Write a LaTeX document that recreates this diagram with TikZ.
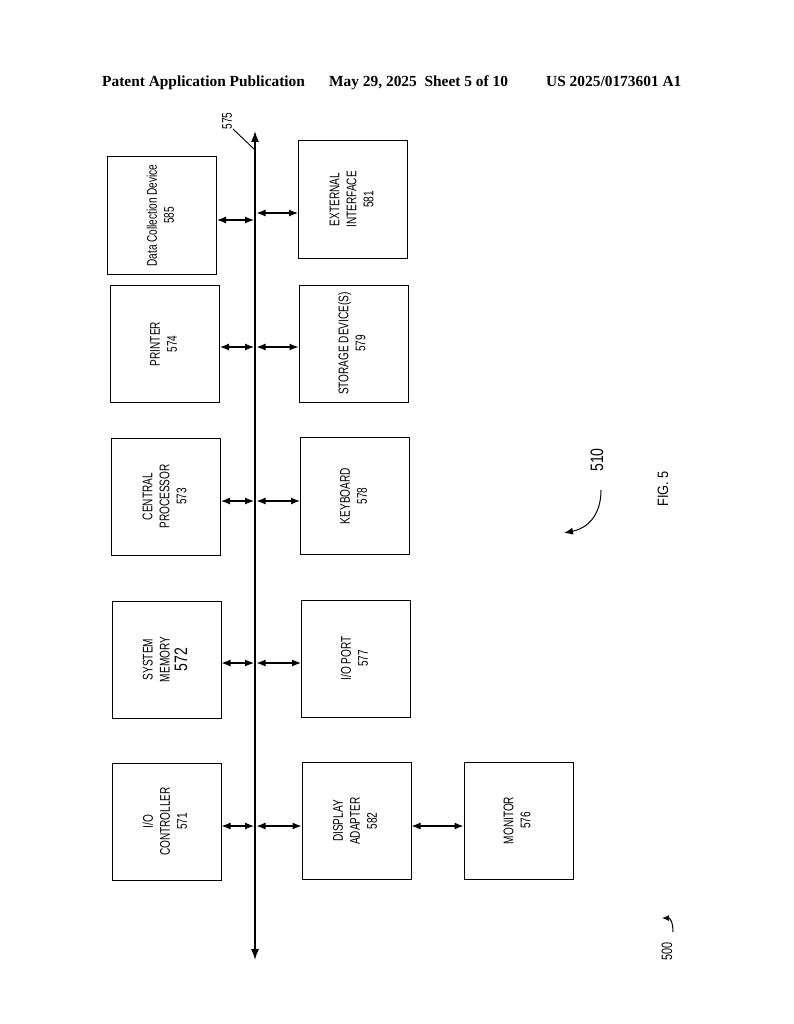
\documentclass[tikz,border=0pt]{standalone}
\usepackage{fontspec}
\usepackage{graphicx}
\setmainfont{Liberation Serif}
\newfontfamily\boxfont[FakeStretch=0.72]{Liberation Sans}
\newfontfamily\bignum[FakeStretch=0.78]{Liberation Sans}
\newfontfamily\figfont[FakeStretch=0.85]{Liberation Sans}
\usetikzlibrary{arrows.meta}
\newcommand{\uptext}[1]{\rotatebox{90}{\begin{tabular}{@{}c@{}}#1\end{tabular}}}

\begin{document}
\begin{tikzpicture}[x=1pt,y=-1pt,
  blk/.style={draw,line width=1pt,minimum width=109pt,minimum height=117pt,inner sep=0pt,font=\boxfont\fontsize{14}{17}\selectfont},
  link/.style={{Latex[length=9pt,width=7pt]}-{Latex[length=9pt,width=7pt]},line width=1.2pt},
  hdr/.style={anchor=base west,inner sep=0pt,font=\fontsize{15.4}{18}\selectfont\bfseries},
  tag/.style={rotate=90,inner sep=0pt}]
\useasboundingbox (0,0) rectangle (794,1024);
% header line
\node[hdr] (pub) at (102,87) {Patent Application Publication};
\node[hdr] (date) at (329,87) {May 29, 2025\hspace{0.5em}Sheet 5 of 10};
\node[hdr] (num) at (546,87) {US 2025/0173601 A1};
% system bus
\coordinate (bustop) at (255,131);
\coordinate (busbot) at (255,960);
\draw[{Latex[length=11pt,width=8pt]}-{Latex[length=11pt,width=8pt]},line width=1.4pt] (busbot) -- (bustop);
\node[tag,font=\boxfont\fontsize{14}{14}\selectfont] (l575) at (227,121) {575};
\coordinate (t575) at (233,129);
\coordinate (b575) at (255,150);
\draw[line width=0.9pt] (t575) -- (b575);
% blocks
\foreach \nm/\px/\py/\txt in {dcd/162/215.5/{Data Collection Device\\585},
    ext/353/199.5/{EXTERNAL\\INTERFACE\\581},
    prn/165/344/{PRINTER\\574},
    sto/353.5/343.5/{STORAGE DEVICE(S)\\579},
    cpu/166/496.5/{CENTRAL\\PROCESSOR\\573},
    kbd/355/496/{KEYBOARD\\578},
    mem/166.5/659.5/{SYSTEM\\MEMORY\\{\bignum\fontsize{18}{18}\selectfont 572}},
    iop/356/658.5/{I/O PORT\\577},
    ioc/166.5/821.5/{I/O\\CONTROLLER\\571},
    dsp/356.5/821/{DISPLAY\\ADAPTER\\582},
    mon/518.5/820.5/{MONITOR\\576}}
  {\node[blk] (\nm) at (\px,\py) {\uptext{\txt}};}
% links to the bus
\foreach \lb/\rb/\yl/\yr in {dcd/ext/220/213, prn/sto/347/347, cpu/kbd/501/501, mem/iop/663/663, ioc/dsp/826/826}
{ \coordinate (jl\lb) at (254,\yl);
  \coordinate (jr\rb) at (256.5,\yr);
  \draw[link] (\lb.east |- jl\lb) -- (jl\lb);
  \draw[link] (jr\rb) -- (\rb.west |- jr\rb);}
\draw[link] (dsp.east |- jrdsp) -- (mon.west |- jrdsp);
% reference numerals
\node[tag,font=\bignum\fontsize{18}{18}\selectfont] (l510) at (597,460) {510};
\coordinate (s510) at (601,490);
\coordinate (e510) at (564,533);
\draw[-{Latex[length=9pt,width=7pt]},line width=1pt] (s510) .. controls (601,515) and (588,528) .. (e510);
\node[tag,font=\figfont\fontsize{15}{15}\selectfont] (fig) at (663,489) {FIG. 5};
\node[tag,font=\boxfont\fontsize{15}{15}\selectfont] (l500) at (667,951) {500};
\coordinate (s500) at (673,932);
\coordinate (e500) at (662,918);
\draw[-{Latex[length=7pt,width=6pt]},line width=1pt] (s500) .. controls (673,922) and (670,918) .. (e500);
\end{tikzpicture}
\end{document}
